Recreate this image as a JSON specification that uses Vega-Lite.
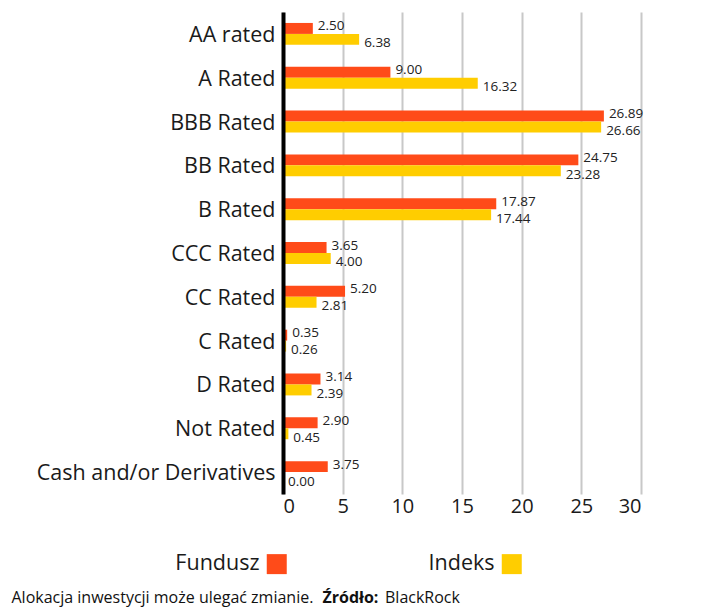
{
  "$schema": "https://vega.github.io/schema/vega-lite/v6.json",
  "width": 358,
  "height": 482,
  "autosize": {"type": "none"},
  "padding": {"left": 283, "top": 12, "right": 81, "bottom": 116},
  "background": "white",
  "config": {"view": {"stroke": null}, "font": "Open Sans"},
  "title": {"text": "BlackRock", "orient": "top", "anchor": "start", "frame": "group", "dx": 102, "dy": 607, "offset": 0, "fontSize": 16, "fontWeight": "normal", "color": "#111111", "baseline": "alphabetic", "font": "Open Sans"},
  "data": {"values": [
    {"category": "AA rated", "series": "Fundusz", "value": 2.50},
    {"category": "AA rated", "series": "Indeks", "value": 6.38},
    {"category": "A Rated", "series": "Fundusz", "value": 9.00},
    {"category": "A Rated", "series": "Indeks", "value": 16.32},
    {"category": "BBB Rated", "series": "Fundusz", "value": 26.89},
    {"category": "BBB Rated", "series": "Indeks", "value": 26.66},
    {"category": "BB Rated", "series": "Fundusz", "value": 24.75},
    {"category": "BB Rated", "series": "Indeks", "value": 23.28},
    {"category": "B Rated", "series": "Fundusz", "value": 17.87},
    {"category": "B Rated", "series": "Indeks", "value": 17.44},
    {"category": "CCC Rated", "series": "Fundusz", "value": 3.65},
    {"category": "CCC Rated", "series": "Indeks", "value": 4.00},
    {"category": "CC Rated", "series": "Fundusz", "value": 5.20},
    {"category": "CC Rated", "series": "Indeks", "value": 2.81},
    {"category": "C Rated", "series": "Fundusz", "value": 0.35},
    {"category": "C Rated", "series": "Indeks", "value": 0.26},
    {"category": "D Rated", "series": "Fundusz", "value": 3.14},
    {"category": "D Rated", "series": "Indeks", "value": 2.39},
    {"category": "Not Rated", "series": "Fundusz", "value": 2.90},
    {"category": "Not Rated", "series": "Indeks", "value": 0.45},
    {"category": "Cash and/or Derivatives", "series": "Fundusz", "value": 3.75},
    {"category": "Cash and/or Derivatives", "series": "Indeks", "value": 0.00}
  ]},
  "encoding": {
    "y": {
      "field": "category", "type": "nominal",
      "sort": ["AA rated", "A Rated", "BBB Rated", "BB Rated", "B Rated", "CCC Rated", "CC Rated", "C Rated", "D Rated", "Not Rated", "Cash and/or Derivatives"],
      "scale": {"paddingInner": 0.5, "paddingOuter": 0.25},
      "axis": {
        "title": "Źródło:", "titleAngle": 0, "titleX": 39, "titleY": 590, "titleAlign": "left", "titleBaseline": "alphabetic",
        "titleFontSize": 16, "titleFontWeight": "bold", "titleColor": "#111111",
        "labelFontSize": 21.5, "labelColor": "#1a1a1a", "labelPadding": 8, "labelLimit": 300, "labelOffset": 2, "ticks": false,
        "domainColor": "#000000", "domainWidth": 4, "grid": false, "zindex": 1
      }
    },
    "yOffset": {"field": "series", "type": "nominal", "sort": ["Fundusz", "Indeks"], "scale": {"paddingInner": 0, "paddingOuter": 0}},
    "x": {
      "field": "value", "type": "quantitative",
      "scale": {"domain": [0, 30], "nice": false},
      "axis": {
        "title": "Alokacja inwestycji może ulegać zmianie.", "titleX": -272, "titleY": 108, "titleAlign": "left", "titleAnchor": "start",
        "titleBaseline": "alphabetic", "titleFontSize": 16, "titleFontWeight": "normal", "titleColor": "#111111",
        "values": [0, 5, 10, 15, 20, 25, 30], "labelFontSize": 20, "labelColor": "#1a1a1a", "labelPadding": 2,
        "ticks": false, "domain": false, "grid": true, "gridColor": "#c8c8c8", "gridWidth": 2, "gridOpacity": 1
      }
    }
  },
  "layer": [
    {
      "mark": {"type": "bar"},
      "encoding": {
        "color": {
          "field": "series", "type": "nominal",
          "scale": {"domain": ["Fundusz", "Indeks"], "range": ["#ff4b19", "#ffcd00"]},
          "legend": {
            "orient": "none", "legendX": -17, "legendY": 541, "direction": "horizontal", "columns": 2, "columnPadding": 141,
            "title": null, "symbolType": "square", "symbolSize": 400, "symbolStrokeWidth": 0, "symbolOpacity": 1,
            "labelFontSize": 21.5, "labelAlign": "right", "labelOffset": -28, "labelColor": "#1a1a1a"
          }
        }
      }
    },
    {
      "transform": [{"filter": "datum.series === 'Fundusz'"}],
      "mark": {"type": "text", "align": "left", "baseline": "middle", "dx": 5, "dy": -2, "fontSize": 13.5, "color": "#222222"},
      "encoding": {"text": {"field": "value", "type": "quantitative", "format": ".2f"}}
    },
    {
      "transform": [{"filter": "datum.series === 'Indeks'"}],
      "mark": {"type": "text", "align": "left", "baseline": "middle", "dx": 5, "dy": 4, "fontSize": 13.5, "color": "#222222"},
      "encoding": {"text": {"field": "value", "type": "quantitative", "format": ".2f"}}
    }
  ]
}
